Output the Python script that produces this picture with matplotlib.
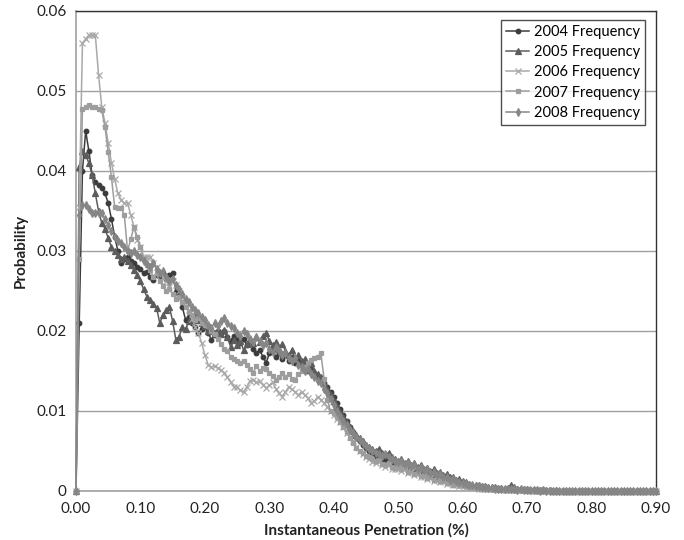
"""
Instantaneous penetration probability distribution, 2004-2008.
Grey-scale Excel-style line chart with small markers.
"""

import numpy as np
import matplotlib
matplotlib.use('Agg')
import matplotlib.pyplot as plt

plt.rcParams['font.family'] = ['Lato', 'DejaVu Sans']

# --- data (probability x 1e-4, sampled every 0.005 of penetration) ---
STEP = 0.005
N_PTS = 181

p2004 = [
    0, 210, 400, 450, 425, 395, 386, 382, 379, 372,
    360, 340, 318, 300, 285, 290, 292, 288, 285, 280,
    278, 272, 274, 268, 264, 270, 268, 272, 265, 270,
    272, 249, 245, 230, 214, 218, 210, 205, 197, 202,
    205, 198, 189, 195, 200, 198, 200, 192, 188, 194,
    190, 185, 190, 182, 188, 178, 172, 176, 168, 160,
    172, 176, 168, 172, 165, 170, 162, 168, 160, 164,
    158, 160, 150, 155, 148, 143, 140, 135, 130, 124,
    118, 110, 102, 95, 88, 80, 74, 68, 62, 58,
    54, 50, 47, 44, 42, 40, 38, 39, 36, 33,
    32, 28, 30, 25, 27, 22, 24, 20, 21, 18,
    19, 15, 17, 13, 14, 11, 12, 9, 10, 8,
    8, 7, 6, 6, 5, 4, 5, 3, 4, 3,
    3, 2, 3, 2, 2, 2, 1, 2, 1, 1,
    1, 1, 1, 1, 1, 1, 0, 1, 0, 0,
    0, 0, 0, 0, 0, 0, 0, 0, 0, 0,
    0, 0, 0, 0, 0, 0, 0, 0, 0, 0,
    0, 0, 0, 0, 0, 0, 0, 0, 0, 0,
    0,
]

p2005 = [
    0, 405, 425, 420, 410, 395, 372, 350, 335, 328,
    316, 305, 300, 295, 290, 292, 288, 282, 276, 270,
    262, 252, 243, 239, 234, 229, 210, 220, 226, 230,
    212, 189, 193, 205, 202, 212, 216, 220, 214, 210,
    206, 200, 204, 198, 201, 196, 201, 192, 180, 189,
    182, 188, 176, 184, 190, 185, 192, 186, 194, 197,
    188, 182, 186, 178, 184, 175, 170, 176, 166, 170,
    162, 165, 156, 160, 150, 146, 142, 135, 128, 120,
    112, 105, 98, 92, 86, 80, 75, 70, 66, 62,
    58, 55, 52, 50, 53, 47, 45, 48, 43, 40,
    38, 40, 35, 37, 33, 35, 30, 32, 28, 29,
    25, 27, 22, 24, 20, 21, 17, 18, 14, 15,
    12, 11, 9, 8, 7, 7, 6, 6, 5, 5,
    5, 4, 4, 3, 4, 8, 5, 3, 3, 2,
    2, 1, 1, 1, 1, 1, 1, 1, 0, 1,
    0, 0, 0, 0, 0, 0, 0, 0, 0, 0,
    0, 0, 0, 0, 0, 0, 0, 0, 0, 0,
    0, 0, 0, 0, 0, 0, 0, 0, 0, 0,
    0,
]

p2006 = [
    0, 355, 560, 565, 570, 570, 570, 520, 480, 460,
    435, 410, 390, 372, 364, 360, 360, 345, 330, 314,
    305, 293, 293, 293, 285, 280, 272, 268, 262, 255,
    262, 258, 250, 243, 236, 226, 215, 205, 197, 185,
    170, 158, 155, 156, 154, 151, 148, 142, 136, 130,
    130, 126, 124, 130, 138, 139, 136, 137, 133, 129,
    132, 136, 128, 122, 118, 124, 130, 127, 124, 120,
    124, 120, 116, 110, 112, 118, 114, 110, 105, 100,
    95, 90, 86, 80, 72, 68, 62, 55, 50, 46,
    42, 40, 36, 35, 38, 32, 30, 33, 28, 27,
    28, 25, 27, 22, 24, 20, 21, 17, 18, 15,
    16, 13, 14, 11, 12, 9, 10, 8, 8, 6,
    6, 5, 5, 4, 4, 3, 3, 3, 2, 2,
    2, 2, 1, 2, 1, 1, 1, 1, 1, 1,
    1, 1, 0, 1, 0, 0, 0, 0, 0, 0,
    0, 0, 0, 0, 0, 0, 0, 0, 0, 0,
    0, 0, 0, 0, 0, 0, 0, 0, 0, 0,
    0, 0, 0, 0, 0, 0, 0, 0, 0, 0,
    0,
]

p2007 = [
    0, 290, 478, 480, 482, 480, 480, 478, 476, 455,
    424, 392, 355, 354, 354, 345, 300, 315, 330, 318,
    305, 290, 282, 276, 268, 272, 262, 256, 250, 252,
    246, 240, 243, 236, 230, 224, 220, 214, 216, 210,
    208, 206, 200, 196, 190, 184, 178, 175, 168, 165,
    162, 160, 163, 158, 152, 148, 156, 150, 154, 152,
    148, 144, 139, 142, 147, 142, 146, 140, 139, 146,
    150, 155, 160, 164, 166, 168, 172, 140, 114, 100,
    97, 92, 86, 80, 74, 66, 60, 54, 50, 47,
    44, 42, 40, 37, 39, 34, 32, 35, 30, 29,
    31, 27, 29, 24, 26, 21, 23, 19, 20, 16,
    17, 14, 15, 12, 13, 10, 10, 8, 9, 7,
    7, 6, 5, 5, 4, 4, 3, 4, 3, 2,
    2, 2, 2, 1, 2, 1, 1, 1, 1, 1,
    1, 1, 1, 0, 1, 0, 0, 0, 0, 0,
    0, 0, 0, 0, 0, 0, 0, 0, 0, 0,
    0, 0, 0, 0, 0, 0, 0, 0, 0, 0,
    0, 0, 0, 0, 0, 0, 0, 0, 0, 0,
    0,
]

p2008 = [
    0, 345, 358, 358, 352, 348, 347, 347, 347, 340,
    332, 325, 318, 312, 310, 305, 300, 298, 300, 295,
    292, 288, 284, 280, 285, 278, 272, 275, 268, 262,
    265, 258, 252, 246, 240, 236, 230, 226, 222, 218,
    214, 208, 204, 210, 206, 212, 216, 210, 206, 204,
    198, 194, 200, 196, 190, 186, 192, 188, 182, 185,
    178, 174, 180, 175, 170, 172, 166, 162, 166, 158,
    155, 150, 152, 146, 142, 138, 135, 128, 122, 115,
    108, 100, 94, 88, 82, 76, 72, 68, 64, 60,
    56, 52, 50, 48, 46, 44, 46, 42, 40, 38,
    36, 38, 34, 35, 31, 32, 28, 30, 26, 27,
    23, 24, 20, 21, 17, 18, 14, 15, 12, 11,
    10, 9, 8, 7, 6, 6, 5, 5, 4, 4,
    3, 3, 3, 2, 2, 2, 2, 1, 2, 1,
    1, 1, 1, 1, 0, 1, 0, 0, 0, 0,
    0, 0, 0, 0, 0, 0, 0, 0, 0, 0,
    0, 0, 0, 0, 0, 0, 0, 0, 0, 0,
    0, 0, 0, 0, 0, 0, 0, 0, 0, 0,
    0,
]

labels = ['2004 Frequency', '2005 Frequency', '2006 Frequency',
          '2007 Frequency', '2008 Frequency']
xticks = [0.0, 0.1, 0.2, 0.3, 0.4, 0.5, 0.6, 0.7, 0.8, 0.9]
yticks = [0, 0.01, 0.02, 0.03, 0.04, 0.05, 0.06]
ytick_labels = ['0', '0.01', '0.02', '0.03', '0.04', '0.05', '0.06']

# --- styles ---
styles = [
    dict(color='#3c3c3c', marker='o', ms=3.3),
    dict(color='#5c5c5c', marker='^', ms=3.8),
    dict(color='#a9a9a9', marker='x', ms=3.8),
    dict(color='#9d9d9d', marker='s', ms=3.0),
    dict(color='#868686', marker='d', ms=3.6),
]


def main():
    x = np.arange(N_PTS) * STEP
    series = [p2004, p2005, p2006, p2007, p2008]

    fig = plt.figure(figsize=(6.84, 5.40), dpi=100)
    ax = fig.add_axes([76 / 684, 49 / 540, 580 / 684, 480 / 540])

    for vals, lab, st in zip(series, labels, styles):
        y = np.array(vals) / 1e4
        ax.plot(x, y, lw=1.1, color=st['color'], marker=st['marker'],
                ms=st['ms'], mew=0.9, label=lab, clip_on=False, zorder=3)

    ax.set_xlim(0, 0.9)
    ax.set_ylim(0, 0.06)
    ax.set_xticks(xticks)
    ax.set_xticklabels([f'{t:.2f}' for t in xticks])
    ax.set_yticks(yticks)
    ax.set_yticklabels(ytick_labels)
    ax.tick_params(axis='both', length=0, labelsize=11, colors='#222222')
    ax.tick_params(axis='x', pad=8)
    ax.tick_params(axis='y', pad=7)

    ax.grid(axis='y', color='#a0a0a0', lw=1.0)
    ax.set_axisbelow(True)
    for side in ['left', 'bottom']:
        ax.spines[side].set_color('#a0a0a0')
        ax.spines[side].set_linewidth(1.2)
    for side in ['top', 'right']:
        ax.spines[side].set_color('#333333')
        ax.spines[side].set_linewidth(1.0)

    ax.set_xlabel('Instantaneous Penetration (%)', fontsize=11,
                  fontweight='bold', color='#222222', labelpad=5)
    ax.set_ylabel('Probability', fontsize=11, fontweight='bold',
                  color='#222222', labelpad=6)

    leg = ax.legend(loc='upper right', bbox_to_anchor=(0.981, 0.981),
                    fontsize=10.5, frameon=True, fancybox=False,
                    handlelength=1.6, handletextpad=0.3,
                    labelspacing=0.42, borderpad=0.35, borderaxespad=0)
    leg.get_frame().set_edgecolor('#222222')
    leg.get_frame().set_linewidth(1.0)

    fig.savefig('out.png', dpi=100)
    plt.close(fig)


if __name__ == '__main__':
    main()
